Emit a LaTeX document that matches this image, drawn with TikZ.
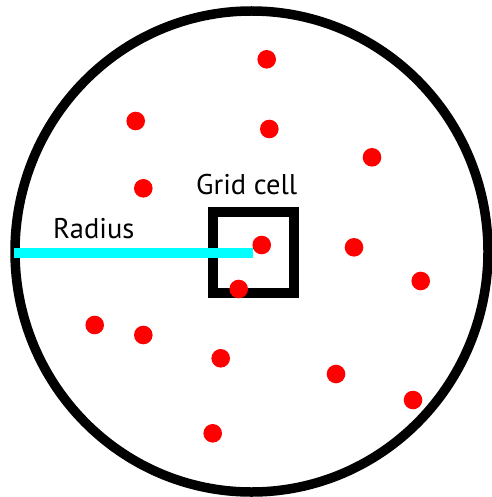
\documentclass[tikz,border=0pt]{standalone}
\usepackage{fontspec}
\setmainfont{PT Sans}
\definecolor{dotred}{RGB}{255,0,0}
\definecolor{radcyan}{RGB}{0,255,255}
\begin{document}
\begin{tikzpicture}[x=1pt,y=-1pt,
  dot/.style={fill=dotred,draw=none},
  border/.style={draw=black,line width=9.5pt},
  cellbox/.style={draw=black,line width=10pt},
  radline/.style={draw=radcyan,line width=10pt},
  lbl/.style={font=\fontsize{28.5}{32}\selectfont,inner sep=0pt,anchor=base west}]
\useasboundingbox (0,0) rectangle (491,497);
\coordinate (c) at (251.5,251.5);
\draw[border] (c) ellipse [x radius=236.5, y radius=240.5];
\draw[cellbox] (213,212) rectangle (294.3,293.3);
\coordinate (rl) at (14,252.7);
\coordinate (rr) at (253,252.7);
\draw[radline] (rl) -- (rr);
\node[lbl] (grid) at (196,194.3) {Grid cell};
\node[lbl] (rad) at (53,238.3) {Radius};
\foreach \p in {(266.7,59.3),(135.7,121),(269.3,129),(372,157.3),(143.3,188.3),
  (261.7,245),(354,247.3),(420.7,281),(238.7,289),(94.7,325),(143.3,335),
  (220.7,358.3),(336,374),(413,400),(212.7,433.3)}
  \fill[dot] \p circle (9.3);
\end{tikzpicture}
\end{document}
